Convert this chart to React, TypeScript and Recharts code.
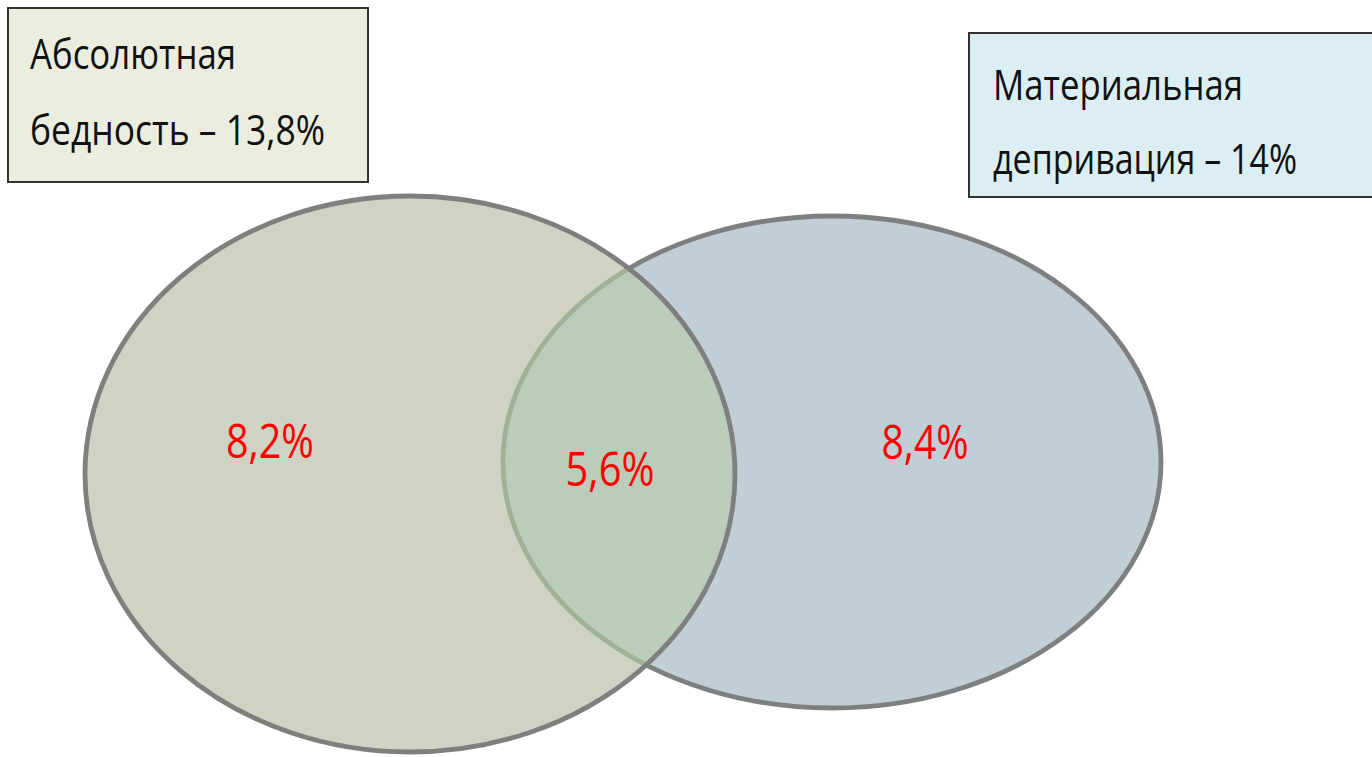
import React from 'react';
import { ScatterChart, Scatter, XAxis, YAxis } from 'recharts';

// ---- data ----
const setNames = ['Абсолютная бедность', 'Материальная депривация'];
const setTotals = ['13,8%', '14%'];
const boxLines = [
  ['Абсолютная', 'бедность – ' + setTotals[0]],
  ['Материальная', 'депривация – ' + setTotals[1]],
];
const regionNames = ['only-poverty', 'both', 'only-deprivation'];
const regionLabels = ['8,2%', '5,6%', '8,4%'];

// ---- layout (chart units = pixels, identity scales) ----
const W = 1372;
const H = 757;
const LEFT = { cx: 410, cy: 474, rx: 325, ry: 278 };
const RIGHT = { cx: 832, cy: 462, rx: 329, ry: 246 };
const regionPos = [
  { x: 270, y: 458, w: 88 },
  { x: 610, y: 486, w: 89 },
  { x: 925, y: 459, w: 87 },
];
const boxes = [
  { x: 8, y: 8, w: 360, h: 174, fill: '#EBEEDF', tx: 30, lines: [69, 145], widths: [206, 295] },
  { x: 969, y: 33, w: 420, h: 164, fill: '#DAEEF3', tx: 993, lines: [100, 174], widths: [250, 304] },
];

const FONT = '"Open Sans", "Noto Sans", sans-serif';
const STROKE = '#7F7F7F';
const SW = 4.8;

const rightData = [{ x: RIGHT.cx, y: RIGHT.cy, name: setNames[1] }];
const leftData = [{ x: LEFT.cx, y: LEFT.cy, name: setNames[0] }];
const labelData = regionLabels.map((l, i) => ({ x: regionPos[i].x, y: regionPos[i].y, label: l, region: regionNames[i], w: regionPos[i].w }));
const boxData = boxes.map((b, i) => ({ x: b.x, y: b.y, idx: i }));

const kx = 1;
const ky = 1;

const RightShape = (p: any) => (
  <ellipse cx={p.cx} cy={p.cy} rx={RIGHT.rx * kx} ry={RIGHT.ry * ky} fill="#C0CFD5" stroke={STROKE} strokeWidth={SW} />
);
const LeftFillShape = (p: any) => (
  <ellipse cx={p.cx} cy={p.cy} rx={LEFT.rx * kx} ry={LEFT.ry * ky} fill="#CFD3C4" stroke="none" />
);
const IntersectionShape = (p: any) => {
  const lcx = p.cx + (LEFT.cx - RIGHT.cx) * kx;
  const lcy = p.cy + (LEFT.cy - RIGHT.cy) * ky;
  return (
    <g>
      <defs>
        <clipPath id="venn-left-clip">
          <ellipse cx={lcx} cy={lcy} rx={LEFT.rx * kx} ry={LEFT.ry * ky} />
        </clipPath>
      </defs>
      <ellipse
        cx={p.cx}
        cy={p.cy}
        rx={RIGHT.rx * kx}
        ry={RIGHT.ry * ky}
        fill="#B9CDBA"
        stroke="#A0B196"
        strokeWidth={SW}
        clipPath="url(#venn-left-clip)"
      />
    </g>
  );
};
const LeftStrokeShape = (p: any) => (
  <ellipse cx={p.cx} cy={p.cy} rx={LEFT.rx * kx} ry={LEFT.ry * ky} fill="none" stroke={STROKE} strokeWidth={SW} />
);
const LabelShape = (p: any) => (
  <text
    x={p.cx}
    y={p.cy}
    textAnchor="middle"
    fill="#FF0000"
    fontFamily={FONT}
    fontSize={48}
    textLength={p.payload.w}
    lengthAdjust="spacingAndGlyphs"
  >
    {p.payload.label}
  </text>
);
const BoxShape = (p: any) => {
  const b = boxes[p.payload.idx];
  const lines = boxLines[p.payload.idx];
  return (
    <g>
      <rect x={p.cx} y={p.cy} width={b.w} height={b.h} fill={b.fill} stroke="#333333" strokeWidth={2} />
      {lines.map((t, i) => (
        <text
          key={i}
          x={b.tx}
          y={b.lines[i]}
          fill="#111111"
          fontFamily={FONT}
          fontSize={42}
          textLength={b.widths[i]}
          lengthAdjust="spacingAndGlyphs"
        >
          {t}
        </text>
      ))}
    </g>
  );
};

export default function App() {
  return (
    <div style={{ position: 'absolute', left: 0, top: 0, width: W, height: H, background: '#FFFFFF', overflow: 'hidden' }}>
      <ScatterChart width={W} height={H} margin={{ top: 0, right: 0, bottom: 0, left: 0 }}>
        <XAxis type="number" dataKey="x" domain={[0, W]} hide allowDataOverflow />
        <YAxis type="number" dataKey="y" domain={[0, H]} reversed hide allowDataOverflow />
        <Scatter data={rightData} shape={RightShape} isAnimationActive={false} />
        <Scatter data={leftData} shape={LeftFillShape} isAnimationActive={false} />
        <Scatter data={rightData} shape={IntersectionShape} isAnimationActive={false} />
        <Scatter data={leftData} shape={LeftStrokeShape} isAnimationActive={false} />
        <Scatter data={labelData} shape={LabelShape} isAnimationActive={false} />
        <Scatter data={boxData} shape={BoxShape} isAnimationActive={false} />
      </ScatterChart>
    </div>
  );
}
